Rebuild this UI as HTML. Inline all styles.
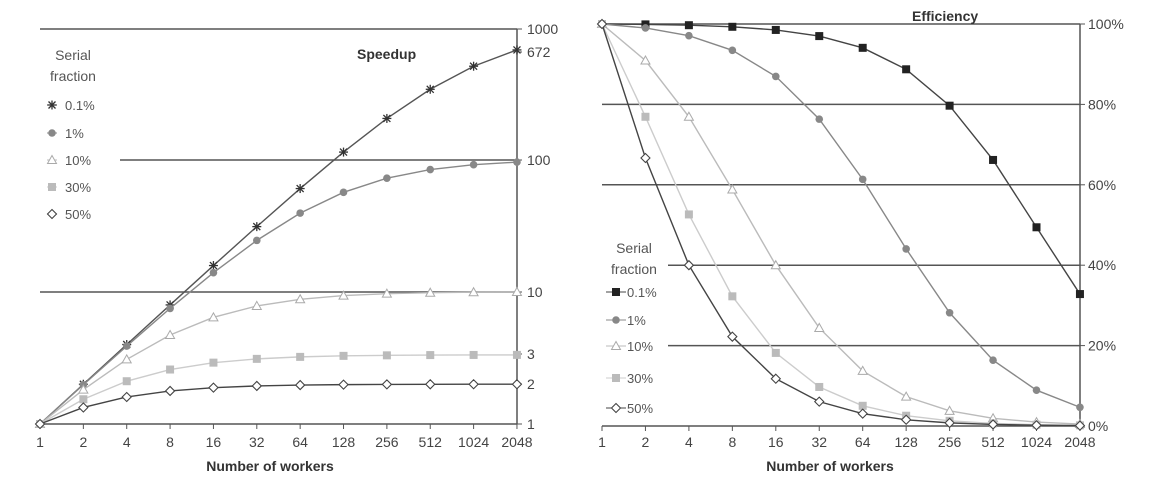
<!DOCTYPE html>
<html><head><meta charset="utf-8"><style>
html,body{margin:0;padding:0;background:#fff;width:1150px;height:490px;overflow:hidden}
svg{display:block;font-family:"Liberation Sans",sans-serif}
</style></head><body>
<svg id="s" width="1150" height="490" viewBox="0 0 1150 490"></svg>
<script>
const S=document.getElementById('s');let h='';
const fr=[0.001,0.01,0.1,0.3,0.5];
const Ns=[1,2,4,8,16,32,64,128,256,512,1024,2048];
const sp=(f,n)=>1/(f+(1-f)/n);
function mk(type,x,y,c){
 if(type=='ast')return `<g stroke="${c}" stroke-width="1.3"><line x1="${x-4.5}" y1="${y}" x2="${x+4.5}" y2="${y}"/><line x1="${x}" y1="${y-4.5}" x2="${x}" y2="${y+4.5}"/><line x1="${x-3.5}" y1="${y-3.5}" x2="${x+3.5}" y2="${y+3.5}"/><line x1="${x-3.5}" y1="${y+3.5}" x2="${x+3.5}" y2="${y-3.5}"/></g>`;
 if(type=='circ')return `<circle cx="${x}" cy="${y}" r="3.8" fill="${c}"/>`;
 if(type=='tri')return `<polygon points="${x},${y-4.5} ${x+4.5},${y+3.5} ${x-4.5},${y+3.5}" fill="#fff" stroke="${c}" stroke-width="1"/>`;
 if(type=='sq')return `<rect x="${x-4}" y="${y-4}" width="8" height="8" fill="${c}"/>`;
 if(type=='dia')return `<polygon points="${x},${y-4.5} ${x+4.5},${y} ${x},${y+4.5} ${x-4.5},${y}" fill="#fff" stroke="${c}" stroke-width="1.1"/>`;
}
const axc='#555';
// LEFT
const lx=i=>40+i*43.36, ly=v=>424-132.3*Math.log10(v);
h+=`<line x1="40" y1="29" x2="517" y2="29" stroke="${axc}" stroke-width="1.5"/>`;
h+=`<line x1="120" y1="160" x2="517" y2="160" stroke="${axc}" stroke-width="1.5"/>`;
h+=`<line x1="40" y1="292" x2="517" y2="292" stroke="${axc}" stroke-width="1.5"/>`;
h+=`<line x1="40" y1="424" x2="517" y2="424" stroke="${axc}" stroke-width="1.5"/>`;
h+=`<line x1="517" y1="29" x2="517" y2="424" stroke="${axc}" stroke-width="1.5"/>`;
Ns.forEach((n,i)=>{h+=`<line x1="${lx(i)}" y1="424" x2="${lx(i)}" y2="429" stroke="${axc}"/><text x="${lx(i)}" y="447" font-size="14" fill="#444" text-anchor="middle">${n}</text>`;});
[[1000,29],[672,52],[100,160],[10,292],[3,354],[2,384],[1,424]].forEach(([t,y])=>{h+=`<line x1="517" y1="${y}" x2="522" y2="${y}" stroke="${axc}"/><text x="527" y="${y+5}" font-size="14" fill="#444">${t}</text>`;});
const ls=[['ast','#333','#555'],['circ','#888','#888'],['tri','#aaa','#bbb'],['sq','#bbb','#ccc'],['dia','#444','#444']];
fr.forEach((f,k)=>{const pts=Ns.map((n,i)=>[lx(i),ly(sp(f,n))]);
 h+=`<polyline points="${pts.map(p=>p.join(',')).join(' ')}" fill="none" stroke="${ls[k][2]}" stroke-width="1.4"/>`;
 pts.forEach(p=>h+=mk(ls[k][0],p[0],p[1],ls[k][1]));});
h+=`<text x="73" y="60" font-size="14" fill="#555" text-anchor="middle">Serial</text><text x="73" y="81" font-size="14" fill="#555" text-anchor="middle">fraction</text>`;
['0.1%','1%','10%','30%','50%'].forEach((t,k)=>{const y=[105,133,160,187,214][k];h+=`<line x1="47" y1="${y}" x2="57" y2="${y}" stroke="${ls[k][2]}"/>`+mk(ls[k][0],52,y,ls[k][1])+`<text x="65" y="${y+5}" font-size="13" fill="#555">${t}</text>`;});
h+=`<text x="357" y="59" font-size="14" font-weight="bold" fill="#333">Speedup</text>`;
h+=`<text x="270" y="471" font-size="14" font-weight="bold" fill="#333" text-anchor="middle">Number of workers</text>`;
// RIGHT
const rx=i=>602+i*43.45, ry=e=>426-402*e;
h+=`<line x1="602" y1="24" x2="1080" y2="24" stroke="${axc}" stroke-width="1.5"/>`;
[[0.8,602],[0.6,602],[0.4,668],[0.2,668]].forEach(([e,x0])=>h+=`<line x1="${x0}" y1="${ry(e)}" x2="1080" y2="${ry(e)}" stroke="${axc}" stroke-width="1.5"/>`);
h+=`<line x1="602" y1="426" x2="1080" y2="426" stroke="${axc}" stroke-width="1.5"/><line x1="1080" y1="24" x2="1080" y2="426" stroke="${axc}" stroke-width="1.5"/>`;
Ns.forEach((n,i)=>{h+=`<line x1="${rx(i)}" y1="426" x2="${rx(i)}" y2="431" stroke="${axc}"/><text x="${rx(i)}" y="447" font-size="14" fill="#444" text-anchor="middle">${n}</text>`;});
[1,0.8,0.6,0.4,0.2,0].forEach(e=>h+=`<line x1="1080" y1="${ry(e)}" x2="1085" y2="${ry(e)}" stroke="${axc}"/><text x="1088" y="${ry(e)+5}" font-size="14" fill="#444">${Math.round(e*100)}%</text>`);
const rs=[['sq','#222','#444'],['circ','#888','#888'],['tri','#aaa','#bbb'],['sq','#bbb','#ccc'],['dia','#444','#444']];
fr.forEach((f,k)=>{const pts=Ns.map((n,i)=>[rx(i),ry(sp(f,n)/n)]);
 h+=`<polyline points="${pts.map(p=>p.join(',')).join(' ')}" fill="none" stroke="${rs[k][2]}" stroke-width="1.4"/>`;
 pts.forEach(p=>h+=mk(rs[k][0],p[0],p[1],rs[k][1]));});
h+=`<text x="634" y="253" font-size="14" fill="#555" text-anchor="middle">Serial</text><text x="634" y="274" font-size="14" fill="#555" text-anchor="middle">fraction</text>`;
['0.1%','1%','10%','30%','50%'].forEach((t,k)=>{const y=[292,320,346,378,408][k];h+=`<line x1="606" y1="${y}" x2="626" y2="${y}" stroke="${rs[k][2]}"/>`+mk(rs[k][0],616,y,rs[k][1])+`<text x="627" y="${y+5}" font-size="13" fill="#555">${t}</text>`;});
h+=`<text x="912" y="21" font-size="14" font-weight="bold" fill="#333">Efficiency</text>`;
h+=`<text x="830" y="471" font-size="14" font-weight="bold" fill="#333" text-anchor="middle">Number of workers</text>`;
S.innerHTML=h;
</script>
</body></html>
